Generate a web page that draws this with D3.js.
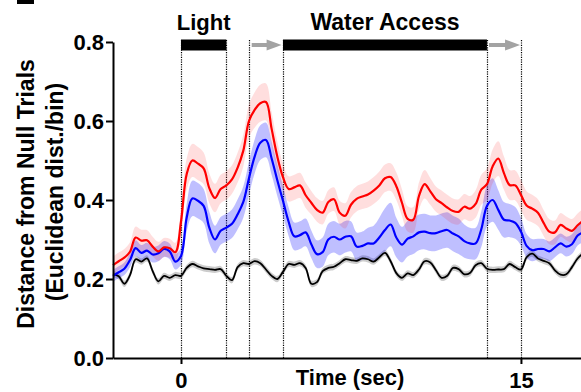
<!DOCTYPE html>
<html>
<head>
<meta charset="utf-8">
<script src="https://cdn.jsdelivr.net/npm/d3@7"></script>
<style>
  html, body { margin: 0; padding: 0; background: #fff; }
  svg { display: block; }
  text { font-family: "Liberation Sans", Arial, sans-serif; font-weight: bold; fill: #000; }
</style>
</head>
<body>
<svg id="chart" width="581" height="392"></svg>
<script>
// ---- data ----
const times = [
  -3.00,-2.75,-2.50,-2.25,-2.00,-1.75,-1.50,-1.25,-1.00,-0.75,-0.50,-0.25,
   0.00, 0.25, 0.50, 0.75, 1.00, 1.25, 1.50, 1.75, 2.00, 2.25, 2.50, 2.75,
   3.00, 3.25, 3.50, 3.75, 4.00, 4.25, 4.50, 4.75, 5.00, 5.25, 5.50, 5.75,
   6.00, 6.25, 6.50, 6.75, 7.00, 7.25, 7.50, 7.75, 8.00, 8.25, 8.50, 8.75,
   9.00, 9.25, 9.50, 9.75,10.00,10.25,10.50,10.75,11.00,11.25,11.50,11.75,
  12.00,12.25,12.50,12.75,13.00,13.25,13.50,13.75,14.00,14.25,14.50,14.75,
  15.00,15.25,15.50,15.75,16.00,16.25,16.50,16.75,17.00,17.25,17.50,17.75];

const redMean = [
  .235,.245,.254,.269,.305,.297,.298,.282,.270,.280,.278,.268,
  .345,.465,.500,.492,.480,.430,.405,.428,.437,.452,.482,.525,
  .600,.628,.645,.648,.580,.510,.458,.428,.432,.437,.412,.393,
  .375,.368,.395,.402,.368,.360,.388,.403,.409,.414,.424,.437,
  .455,.458,.435,.393,.352,.350,.410,.440,.422,.402,.392,.381,
  .372,.370,.383,.378,.390,.426,.440,.485,.505,.468,.438,.437,
  .413,.386,.378,.368,.342,.320,.318,.337,.328,.322,.336,.348];
const redSem = [
  .022,.022,.022,.024,.028,.028,.026,.025,.024,.024,.024,.024,
  .030,.040,.042,.042,.040,.038,.036,.036,.036,.036,.038,.040,
  .042,.045,.047,.047,.043,.038,.034,.032,.032,.032,.032,.030,
  .030,.030,.030,.030,.030,.032,.032,.032,.032,.033,.034,.035,
  .035,.035,.035,.034,.032,.032,.034,.036,.034,.032,.032,.032,
  .032,.032,.032,.032,.035,.038,.040,.043,.044,.042,.038,.038,
  .038,.036,.035,.034,.033,.032,.030,.030,.030,.030,.030,.030];

const blueMean = [
  .208,.217,.226,.248,.278,.266,.272,.262,.265,.276,.270,.244,
  .258,.355,.404,.398,.385,.330,.300,.322,.330,.340,.364,.395,
  .455,.510,.545,.552,.505,.450,.398,.345,.308,.311,.318,.288,
  .263,.268,.300,.307,.300,.307,.308,.282,.284,.290,.290,.305,
  .324,.338,.305,.287,.302,.308,.318,.320,.316,.316,.321,.324,
  .315,.308,.296,.290,.290,.326,.385,.400,.375,.350,.348,.342,
  .320,.284,.273,.276,.276,.270,.280,.290,.282,.288,.310,.318];
const blueSem = [
  .015,.015,.016,.018,.020,.020,.020,.020,.020,.020,.020,.020,
  .022,.035,.045,.045,.043,.040,.035,.035,.035,.036,.038,.040,
  .042,.043,.044,.044,.042,.040,.038,.036,.035,.035,.035,.035,
  .035,.037,.040,.040,.040,.040,.038,.036,.036,.040,.045,.050,
  .055,.055,.050,.045,.045,.045,.045,.045,.045,.045,.045,.045,
  .045,.045,.042,.040,.040,.045,.052,.055,.050,.045,.042,.040,
  .035,.030,.028,.026,.025,.025,.025,.025,.025,.025,.025,.025];

const blackMean = [
  .212,.207,.188,.210,.250,.244,.252,.220,.194,.208,.203,.210,
  .208,.228,.238,.232,.227,.225,.223,.225,.208,.197,.230,.240,
  .238,.245,.240,.224,.208,.200,.218,.238,.236,.240,.228,.188,
  .192,.220,.228,.231,.240,.250,.248,.246,.252,.250,.244,.255,
  .266,.245,.215,.203,.214,.210,.224,.245,.242,.222,.203,.208,
  .228,.225,.212,.215,.235,.240,.226,.223,.224,.225,.238,.230,
  .224,.255,.264,.252,.246,.240,.222,.211,.212,.230,.252,.265];
const blackSem = [
  .008,.008,.008,.008,.008,.008,.008,.008,.008,.008,.008,.008,
  .008,.008,.008,.008,.008,.008,.008,.008,.008,.008,.008,.008,
  .008,.008,.008,.008,.008,.008,.008,.008,.008,.008,.008,.008,
  .008,.008,.008,.008,.008,.008,.008,.008,.008,.008,.008,.008,
  .008,.008,.008,.008,.008,.008,.008,.008,.008,.008,.008,.008,
  .008,.008,.008,.008,.008,.008,.008,.008,.008,.008,.008,.008,
  .008,.008,.008,.008,.008,.008,.008,.008,.008,.008,.008,.008];

const yTicks = [0, 0.2, 0.4, 0.6, 0.8];
const xTicks = [0, 15];
const xTitle = "Time (sec)";
const yTitle = ["Distance from Null Trials", "(Euclidean dist./bin)"];

const epochLabels = ["Light", "Water Access"];
const epochStart = [0, 4.5];
const epochEnd = [2, 13.5];
const markerTimes = [0, 2, 3, 4.5, 13.5, 15];
const arrowStart = [3.12, 13.59];
const arrowEnd = [4.44, 14.96];

// ---- drawing ----
const svg = d3.select("#chart");
const x = d3.scaleLinear().domain([-3, 17.65]).range([113, 581]);
const y = d3.scaleLinear().domain([0, 0.8]).range([358, 42]);

const series = [
  { mean: blackMean, sem: blackSem, line: "#000000", band: "#000000", op: 0.2, w: 1.8 },
  { mean: blueMean, sem: blueSem, line: "#0000ff", band: "#0000ff", op: 0.25, w: 2.2 },
  { mean: redMean, sem: redSem, line: "#ff0000", band: "#ff0000", op: 0.13, w: 2.2 }
];

// marker dotted lines
svg.append("g").selectAll("line").data(markerTimes).join("line")
  .attr("x1", d => Math.round(x(d)) + 0.5).attr("x2", d => Math.round(x(d)) + 0.5)
  .attr("y1", 40).attr("y2", 358)
  .attr("stroke", "#000").attr("stroke-width", 1.2).attr("stroke-dasharray", "1.2,1.2");

const curve = d3.curveCatmullRom.alpha(0.5);
const gData = svg.append("g");
series.forEach(s => {
  const pts = times.map((t, i) => ({ t, m: s.mean[i], e: s.sem[i] }));
  gData.append("path").datum(pts)
    .attr("d", d3.area().x(d => x(d.t)).y0(d => y(d.m - d.e)).y1(d => y(d.m + d.e)).curve(curve))
    .attr("fill", s.band).attr("fill-opacity", s.op).attr("stroke", "none");
});
series.forEach(s => {
  const pts = times.map((t, i) => ({ t, m: s.mean[i] }));
  gData.append("path").datum(pts)
    .attr("d", d3.line().x(d => x(d.t)).y(d => y(d.m)).curve(curve))
    .attr("fill", "none").attr("stroke", s.line).attr("stroke-width", s.w)
    .attr("stroke-linejoin", "round");
});

// epoch bars and labels
const gEp = svg.append("g");
epochLabels.forEach((lab, i) => {
  gEp.append("rect")
    .attr("x", x(epochStart[i])).attr("y", 39.5)
    .attr("width", x(epochEnd[i]) - x(epochStart[i])).attr("height", 11)
    .attr("fill", "#000");
  gEp.append("text")
    .attr("x", x((epochStart[i] + epochEnd[i]) / 2)).attr("y", 30)
    .attr("text-anchor", "middle").attr("font-size", i === 0 ? 22 : 23)
    .text(lab);
});

// gray arrows
arrowStart.forEach((a, i) => {
  const x0 = x(a), x1 = x(arrowEnd[i]);
  gEp.append("line").attr("x1", x0).attr("x2", x1 - 12).attr("y1", 45).attr("y2", 45)
    .attr("stroke", "#a3a3a3").attr("stroke-width", 4);
  gEp.append("path")
    .attr("d", `M${x1 - 15},39.5 L${x1},45 L${x1 - 15},50.5 Z`)
    .attr("fill", "#a3a3a3");
});

// axes
const yAxis = svg.append("g").attr("transform", "translate(113,0)")
  .call(d3.axisLeft(y).tickValues(yTicks).tickFormat(d3.format(".1f"))
    .tickSize(7).tickSizeOuter(0).tickPadding(2));
yAxis.select(".domain").attr("stroke-width", 2);
yAxis.selectAll(".tick line").attr("stroke-width", 2);
yAxis.selectAll("text").attr("font-size", 22).attr("font-family", null).attr("dy", "0.36em");

const xAxis = svg.append("g").attr("transform", "translate(0,358)")
  .call(d3.axisBottom(x).tickValues(xTicks).tickFormat(d3.format("d"))
    .tickSize(6).tickSizeOuter(0).tickPadding(8));
xAxis.select(".domain").attr("stroke-width", 2);
xAxis.selectAll(".tick line").attr("stroke-width", 2);
xAxis.selectAll("text").attr("font-size", 22).attr("font-family", null);

svg.append("text").attr("x", 350).attr("y", 385).attr("text-anchor", "middle")
  .attr("font-size", 22).text(xTitle);

svg.append("text").attr("transform", "translate(33.5,194) rotate(-90)")
  .attr("text-anchor", "middle").attr("font-size", 23).text(yTitle[0]);
svg.append("text").attr("transform", "translate(63,192) rotate(-90)")
  .attr("text-anchor", "middle").attr("font-size", 23).text(yTitle[1]);

// panel letter remnant at top-left
svg.append("rect").attr("x", 17).attr("y", 0).attr("width", 17).attr("height", 4).attr("fill", "#000");
</script>
</body>
</html>
